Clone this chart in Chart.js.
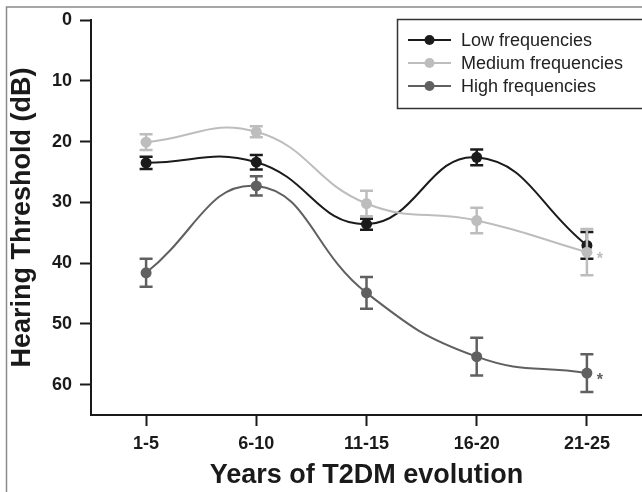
<!DOCTYPE html>
<html>
<head>
<meta charset="utf-8">
<script src="https://cdn.jsdelivr.net/npm/chart.js@4.4.1/dist/chart.umd.min.js"></script>
<style>
  html, body { margin: 0; padding: 0; background: #fff; }
  #wrap { width: 642px; height: 492px; position: relative; }
</style>
</head>
<body>
<div id="wrap"><canvas id="chart"></canvas></div>
<script>
// ---- data ----
const years = ["1-5", "6-10", "11-15", "16-20", "21-25"];
const lowFreq = [23.5, 23.4, 33.6, 22.6, 37.1];
const lowErr = [1.0, 1.2, 0.9, 1.3, 2.2];
const medFreq = [20.1, 18.4, 30.2, 33.0, 38.2];
const medErr = [1.3, 0.9, 2.1, 2.1, 3.8];
const highFreq = [41.6, 27.3, 44.9, 55.4, 58.1];
const highErr = [2.3, 1.6, 2.6, 3.1, 3.1];
const medSig = ["", "", "", "", "*"];
const highSig = ["", "", "", "", "*"];
const yTicks = [0, 10, 20, 30, 40, 50, 60];

const FONT = "'Liberation Sans', Arial, Helvetica, sans-serif";
const INK = "#1a1a1a";
const C_LOW = "#1b1b1b";
const C_MED = "#bdbdbd";
const C_HIGH = "#606060";

// frame round the figure
const framePlugin = {
  id: "frame",
  beforeDraw(chart) {
    const ctx = chart.ctx;
    ctx.save();
    ctx.fillStyle = "#fff";
    ctx.fillRect(0, 0, chart.width, chart.height);
    ctx.strokeStyle = "#8a8a8a";
    ctx.lineWidth = 1.5;
    ctx.beginPath();
    ctx.moveTo(6.5, chart.height);
    ctx.lineTo(6.5, 7);
    ctx.lineTo(chart.width, 7);
    ctx.stroke();
    ctx.restore();
  },
};

// error bars (mean +/- err), drawn just before each line
const errorBarPlugin = {
  id: "errorBars",
  beforeDatasetDraw(chart, args) {
    const ds = chart.data.datasets[args.index];
    if (!ds.errors) return;
    const y = chart.scales.y;
    const ctx = chart.ctx;
    ctx.save();
    ctx.strokeStyle = ds.borderColor;
    ctx.lineWidth = 2.5;
    args.meta.data.forEach((pt, i) => {
      const top = y.getPixelForValue(ds.data[i] - ds.errors[i]);
      const bot = y.getPixelForValue(ds.data[i] + ds.errors[i]);
      ctx.beginPath();
      ctx.moveTo(pt.x, top);
      ctx.lineTo(pt.x, bot);
      ctx.moveTo(pt.x - 6.5, top);
      ctx.lineTo(pt.x + 6.5, top);
      ctx.moveTo(pt.x - 6.5, bot);
      ctx.lineTo(pt.x + 6.5, bot);
      ctx.stroke();
    });
    ctx.restore();
  },
};

// significance stars next to points
const starPlugin = {
  id: "stars",
  afterDatasetsDraw(chart) {
    const ctx = chart.ctx;
    ctx.save();
    ctx.font = "bold 16px " + FONT;
    ctx.textAlign = "center";
    ctx.textBaseline = "alphabetic";
    chart.data.datasets.forEach((ds, di) => {
      if (!ds.sig) return;
      const meta = chart.getDatasetMeta(di);
      ds.sig.forEach((s, i) => {
        if (!s) return;
        const pt = meta.data[i];
        ctx.fillStyle = ds.borderColor;
        ctx.fillText(s, pt.x + 13, pt.y + 12);
      });
    });
    ctx.restore();
  },
};

// boxed legend in the top right corner
const legendPlugin = {
  id: "boxLegend",
  afterDraw(chart) {
    const ctx = chart.ctx;
    ctx.save();
    ctx.strokeStyle = "#333";
    ctx.lineWidth = 1.5;
    ctx.strokeRect(397.5, 19.5, 260, 89);
    ctx.font = "18px " + FONT;
    ctx.textBaseline = "middle";
    ctx.textAlign = "left";
    chart.data.datasets.forEach((ds, i) => {
      const yy = 40 + i * 23;
      ctx.strokeStyle = ds.borderColor;
      ctx.lineWidth = 2;
      ctx.beginPath();
      ctx.moveTo(408, yy);
      ctx.lineTo(451, yy);
      ctx.stroke();
      ctx.fillStyle = ds.borderColor;
      ctx.beginPath();
      ctx.arc(429.5, yy, 5, 0, Math.PI * 2);
      ctx.fill();
      ctx.fillStyle = "#222";
      ctx.fillText(ds.label, 461, yy + 1);
    });
    ctx.restore();
  },
};

function series(label, values, errors, color, sig, order) {
  return {
    label: label,
    data: values,
    errors: errors,
    sig: sig,
    order: order,
    borderColor: color,
    backgroundColor: color,
    pointBackgroundColor: color,
    pointBorderColor: color,
    pointBorderWidth: 0,
    pointRadius: 5.5,
    borderWidth: 2,
    tension: 0.45,
    fill: false,
  };
}

new Chart(document.getElementById("chart"), {
  type: "line",
  data: {
    labels: years,
    datasets: [
      series("Low frequencies", lowFreq, lowErr, C_LOW, null, 2),
      series("Medium frequencies", medFreq, medErr, C_MED, medSig, 1),
      series("High frequencies", highFreq, highErr, C_HIGH, highSig, 0),
    ],
  },
  options: {
    responsive: true,
    maintainAspectRatio: false,
    animation: false,
    layout: { autoPadding: false, padding: { top: 20, right: 0, bottom: 0, left: 0 } },
    plugins: {
      legend: { display: false },
      tooltip: { enabled: false },
    },
    scales: {
      x: {
        type: "category",
        offset: true,
        grid: {
          offset: false,
          drawOnChartArea: false,
          drawTicks: true,
          tickLength: 11,
          tickWidth: 2,
          tickColor: INK,
        },
        border: { display: true, color: INK, width: 2 },
        ticks: {
          color: INK,
          padding: 7,
          maxRotation: 0,
          font: { family: FONT, size: 18, weight: "bold" },
        },
        title: {
          display: true,
          text: "Years of T2DM evolution",
          color: INK,
          font: { family: FONT, size: 27, weight: "bold" },
          padding: { top: 0, bottom: 0 },
        },
        afterFit: (s) => { s.height = 77; },
      },
      y: {
        reverse: true,
        min: 0,
        max: 65,
        afterBuildTicks: (s) => { s.ticks = yTicks.map((v) => ({ value: v })); },
        grid: {
          drawOnChartArea: false,
          drawTicks: true,
          tickLength: 11,
          tickWidth: 2,
          tickColor: INK,
        },
        border: { display: true, color: INK, width: 2 },
        ticks: {
          color: INK,
          padding: 8,
          font: { family: FONT, size: 18, weight: "bold" },
        },
        title: {
          display: true,
          text: "Hearing Threshold (dB)",
          color: INK,
          font: { family: FONT, size: 27, weight: "bold" },
          padding: { top: 6, bottom: 0 },
        },
        afterFit: (s) => { s.width = 91; },
      },
    },
  },
  plugins: [framePlugin, errorBarPlugin, starPlugin, legendPlugin],
});
</script>
</body>
</html>
